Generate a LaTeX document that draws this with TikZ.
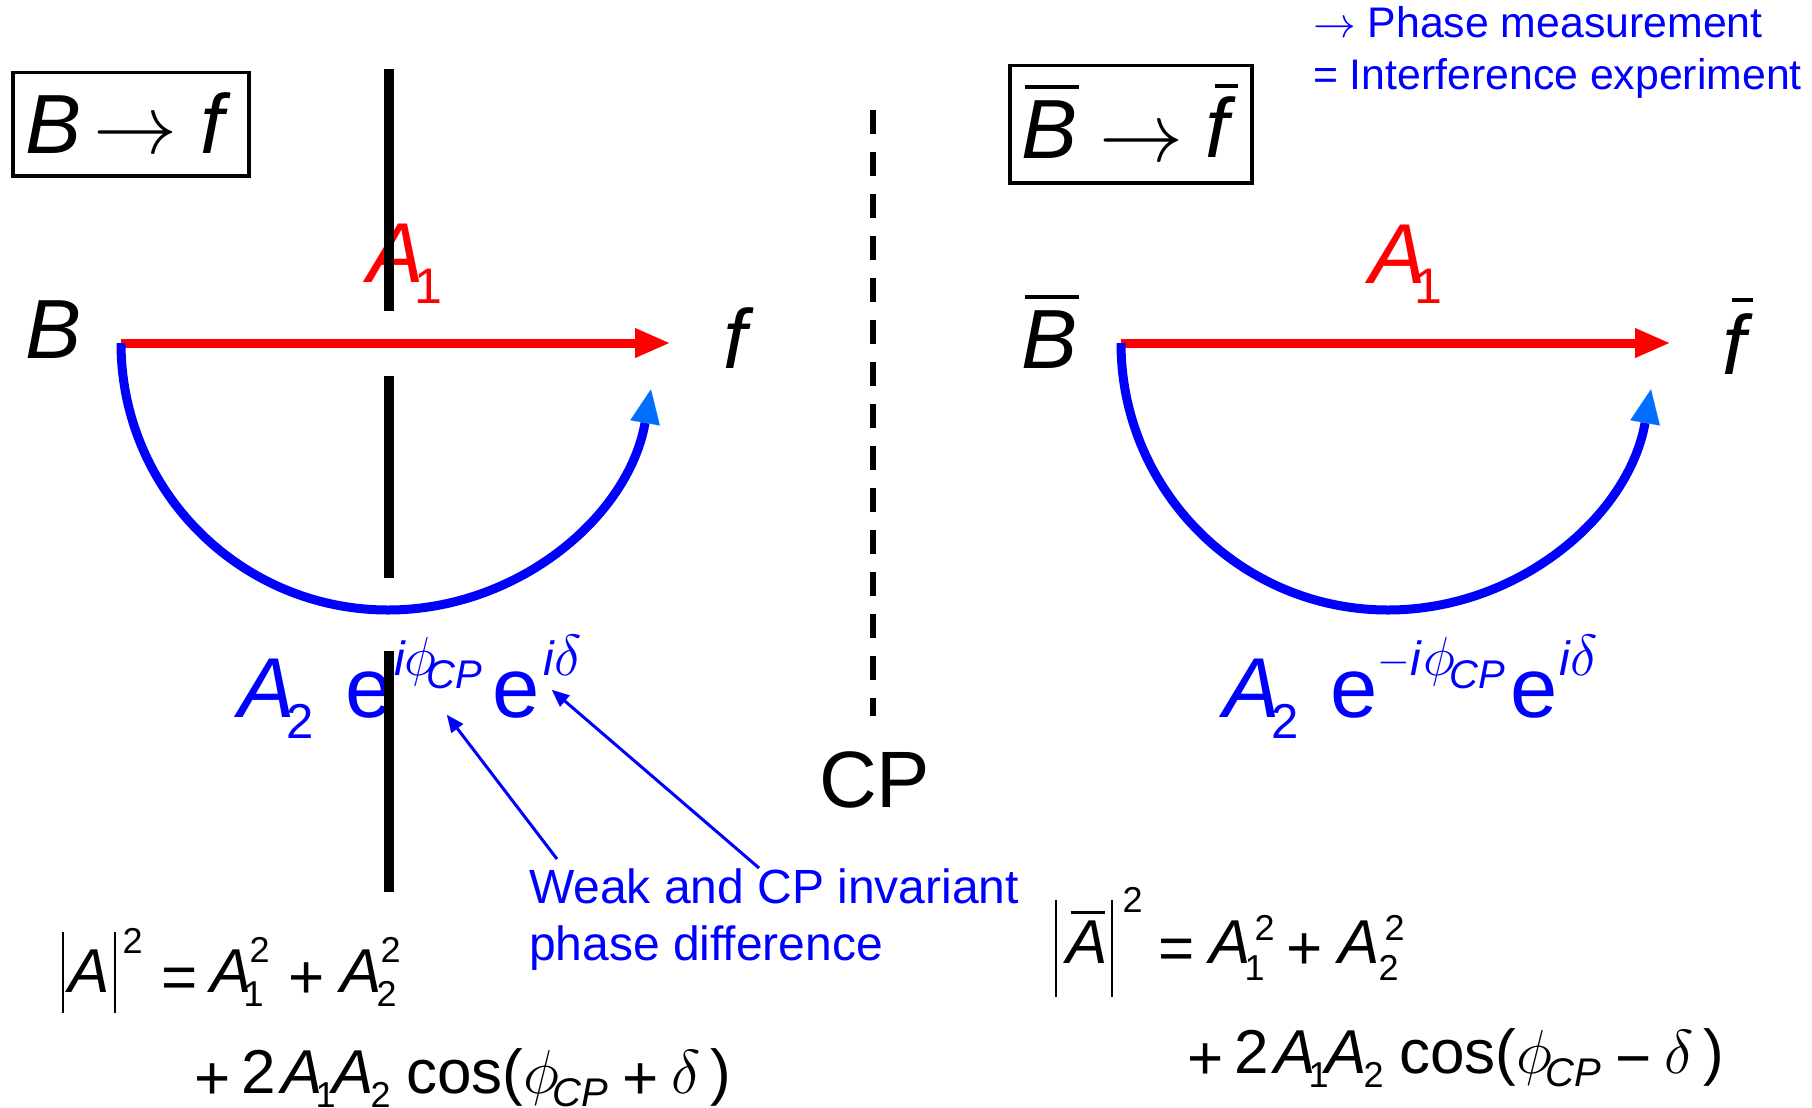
\RequirePackage{fix-cm}
\documentclass[tikz,border=0pt]{standalone}
\usepackage{fontspec}
\setmainfont{Liberation Sans}
\usetikzlibrary{arrows.meta}
\definecolor{myred}{RGB}{255,0,0}
\definecolor{myblue}{RGB}{0,0,255}
\definecolor{tipblue}{RGB}{0,110,255}
\newcommand\fs[1]{\fontsize{#1pt}{#1pt}\selectfont}
\newcommand\pc[3]{\rlap{\kern#1pt\raisebox{#2pt}{#3}}}
\tikzset{
  lbl/.style={anchor=base west, inner sep=0pt, outer sep=0pt},
  framebox/.style={draw, line width=3.5pt, anchor=north west, inner sep=0pt},
  redarrow/.style={draw=myred, line width=9pt, -{Triangle[length=34pt,width=30pt,line width=0.1pt]}},
  bluearc/.style={draw=myblue, line width=9pt, -{Triangle[length=34pt,width=30pt,color=tipblue,line width=0.1pt]}},
  pointer/.style={draw=myblue, line width=3pt, -{Triangle[length=17pt,width=15pt,line width=0.1pt]}},
  mirror/.style={line width=10pt, black},
  cpline/.style={line width=6pt, black, dash pattern=on 24pt off 18pt},
}
\begin{document}
\begin{tikzpicture}[x=1pt,y=-1pt]
\useasboundingbox (0,0) rectangle (1812,1108);

% ---- boxes ----
\node[framebox, minimum width=236pt, minimum height=103pt] (box1) at (11,71) {};
\node[lbl] (box1t) at (25,153) {\fs{84}%
\pc{0}{0}{\itshape B}%
\pc{68}{0}{$\rightarrow$}%
\pc{175}{0}{\itshape f}};

\node[framebox, minimum width=242pt, minimum height=117pt] (box2) at (1008,64) {};
\node[lbl] (box2t) at (1021,158) {\fs{84}%
\pc{0}{0}{\itshape B}%
\pc{3}{69}{\rule{54pt}{4pt}}%
\pc{78}{-3}{$\rightarrow$}%
\pc{184}{1}{\itshape f}%
\pc{193}{70}{\rule{23pt}{4pt}}};

% ---- top right note ----
\node[lbl, text=myblue, font=\fs{42.8}] (ph1) at (1313,38) {$\rightarrow$ Phase measurement};
\node[lbl, text=myblue, font=\fs{42.8}] (ph2) at (1313,89) {= Interference experiment};

% ---- left diagram ----
\node[lbl] (BL) at (25,358) {\fs{84}\itshape B};
\node[lbl] (fL) at (723,368) {\fs{84}\itshape f};
\node[lbl, text=myred] (A1L) at (367,282) {\fs{85}%
\pc{0}{0}{\itshape A}%
\pc{47}{-21}{\fs{50}1}};

\coordinate (sL) at (121,343);
\coordinate (tL) at (669,343);
\draw[redarrow] (sL) -- (tL);
\draw[bluearc] (sL) arc[start angle=180, end angle=350, radius=267pt];

\node[lbl, text=myblue] (A2L) at (238,717) {\fs{85}%
\pc{0}{0}{\itshape A}%
\pc{48}{-21}{\fs{49}2}%
\pc{107}{0}{e}%
\pc{156}{42}{\fs{48}\itshape i}%
\pc{166}{42}{\fs{55}$\phi$}%
\pc{188}{29}{\fs{40}\itshape CP}%
\pc{254}{0}{e}%
\pc{305}{42}{\fs{48}\itshape i}%
\pc{316}{42}{\fs{58}$\delta$}};

% ---- right diagram ----
\node[lbl] (BR) at (1021,368) {\fs{84}%
\pc{0}{0}{\itshape B}%
\pc{3}{69}{\rule{54pt}{4pt}}};
\node[lbl] (fR) at (1722,374) {\fs{84}%
\pc{0}{0}{\itshape f}%
\pc{9}{72}{\rule{21pt}{4pt}}};
\node[lbl, text=myred] (A1R) at (1369,283) {\fs{85}%
\pc{0}{0}{\itshape A}%
\pc{45}{-20}{\fs{50}1}};

\coordinate (sR) at (1121,343);
\coordinate (tR) at (1669,343);
\draw[redarrow] (sR) -- (tR);
\draw[bluearc] (sR) arc[start angle=180, end angle=350, radius=267pt];

\node[lbl, text=myblue] (A2R) at (1223,717) {\fs{85}%
\pc{0}{0}{\itshape A}%
\pc{48}{-21}{\fs{49}2}%
\pc{107}{0}{e}%
\pc{154}{44}{\fs{42}$-$}%
\pc{187}{42}{\fs{48}\itshape i}%
\pc{200}{42}{\fs{55}$\phi$}%
\pc{226}{29}{\fs{40}\itshape CP}%
\pc{287}{0}{e}%
\pc{336}{42}{\fs{48}\itshape i}%
\pc{347}{42}{\fs{58}$\delta$}};

% ---- CP mirror ----
\draw[cpline] (873,110) -- (873,716);
\node[lbl] (CP) at (819,807) {\fs{80}CP};

% ---- note with pointers ----
\node[lbl, text=myblue, font=\fs{48}] (note1) at (529,903) {Weak and CP invariant};
\node[lbl, text=myblue, font=\fs{48}] (note2) at (529,960) {phase difference};
\coordinate (n1) at (557,859);
\coordinate (p1) at (447,715);
\coordinate (n2) at (759,868);
\coordinate (p2) at (552,690);
\draw[pointer] (n1) -- (p1);
\draw[pointer] (n2) -- (p2);

% ---- equations left ----
\node[lbl] (eqL1) at (61,992) {\fs{62}%
\pc{0}{0}{\vrule width 2.2pt height 60pt depth 21pt}%
\pc{7}{0}{\itshape A}%
\pc{52}{0}{\vrule width 2.2pt height 60pt depth 21pt}%
\pc{61}{39}{\fs{36}2}%
\pc{100}{-6}{=}%
\pc{149}{0}{\itshape A}%
\pc{182}{-14}{\fs{36}1}%
\pc{188}{30}{\fs{36}2}%
\pc{227}{-6}{+}%
\pc{279}{0}{\itshape A}%
\pc{315}{-14}{\fs{36}2}%
\pc{319}{30}{\fs{36}2}};
\node[lbl] (eqL2) at (198,1093) {\fs{62}%
\pc{-4}{-6}{+}%
\pc{43}{0}{2}%
\pc{83}{0}{\itshape A}%
\pc{117}{-14}{\fs{36}1}%
\pc{134}{0}{\itshape A}%
\pc{172}{-14}{\fs{36}2}%
\pc{208}{0}{cos(}%
\pc{325}{0}{$\phi$}%
\pc{354}{-13}{\fs{40}\itshape CP}%
\pc{424}{-6}{+}%
\pc{473}{0}{$\delta$}%
\pc{512}{0}{)}};

% ---- equations right ----
\node[lbl] (eqR1) at (1054,963) {\fs{62}%
\pc{0}{0}{\vrule width 2.2pt height 63pt depth 34pt}%
\pc{12}{0}{\itshape A}%
\pc{16}{49}{\rule{34pt}{3pt}}%
\pc{56}{0}{\vrule width 2.2pt height 63pt depth 34pt}%
\pc{68}{51}{\fs{36}2}%
\pc{104}{-6}{=}%
\pc{155}{0}{\itshape A}%
\pc{190}{-17}{\fs{36}1}%
\pc{200}{23}{\fs{36}2}%
\pc{232}{-6}{+}%
\pc{284}{0}{\itshape A}%
\pc{324}{-17}{\fs{36}2}%
\pc{330}{23}{\fs{36}2}};
\node[lbl] (eqR2) at (1191,1073) {\fs{62}%
\pc{-4}{-6}{+}%
\pc{43}{0}{2}%
\pc{83}{0}{\itshape A}%
\pc{117}{-14}{\fs{36}1}%
\pc{134}{0}{\itshape A}%
\pc{172}{-14}{\fs{36}2}%
\pc{208}{0}{cos(}%
\pc{325}{0}{$\phi$}%
\pc{354}{-13}{\fs{40}\itshape CP}%
\pc{424}{-6}{−}%
\pc{473}{0}{$\delta$}%
\pc{512}{0}{)}};

% ---- vertical slit line (drawn on top) ----
\draw[mirror] (389,69) -- (389,311);
\draw[mirror] (389,376) -- (389,578);
\draw[mirror] (389,651) -- (389,892);
\end{tikzpicture}
\end{document}
